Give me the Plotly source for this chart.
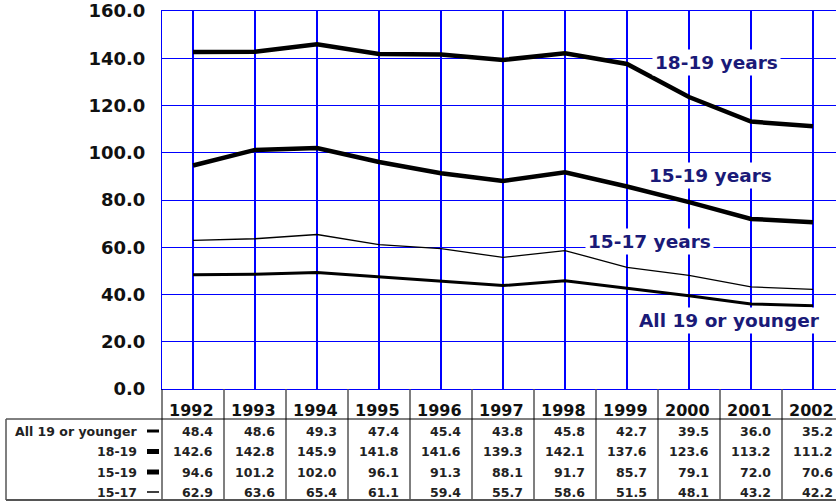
import plotly.graph_objects as go

# --- DATA ---
years = [1992, 1993, 1994, 1995, 1996, 1997, 1998, 1999, 2000, 2001, 2002]
all_19_or_younger = [48.4, 48.6, 49.3, 47.4, 45.4, 43.8, 45.8, 42.7, 39.5, 36.0, 35.2]
age_18_19 = [142.6, 142.8, 145.9, 141.8, 141.6, 139.3, 142.1, 137.6, 123.6, 113.2, 111.2]
age_15_19 = [94.6, 101.2, 102.0, 96.1, 91.3, 88.1, 91.7, 85.7, 79.1, 72.0, 70.6]
age_15_17 = [62.9, 63.6, 65.4, 61.1, 59.4, 55.7, 58.6, 51.5, 48.1, 43.2, 42.2]

row_labels = ["All 19 or younger", "18-19", "15-19", "15-17"]
row_values = [all_19_or_younger, age_18_19, age_15_19, age_15_17]
row_widths = [3, 5, 5, 1.5]

# in-chart labels: (text, x, y)
line_labels = [
    ("18-19 years", 2000.44, 138.4),
    ("15-19 years", 2000.34, 90.2),
    ("15-17 years", 1999.37, 62.6),
    ("All 19 or younger", 2000.66, 29.2),
]

FONT = "DejaVu Sans"
NAVY = "#1a1a78"
GRID = "#0000ff"
TBL = "#555555"

# --- LAYOUT GEOMETRY (pixels) ---
W, H = 836, 502
L, T, B = 162, 11, 113
PH = H - T - B


def py(pix):
    # pixel row -> paper y (0 = plot bottom)
    return (H - B - pix) / PH


def px(pix):
    return (pix - L) / (W - L)


fig = go.Figure()

fig.add_trace(go.Scatter(x=years, y=age_18_19, mode="lines",
                         line=dict(color="black", width=4.5)))
fig.add_trace(go.Scatter(x=years, y=age_15_19, mode="lines",
                         line=dict(color="black", width=4.5)))
fig.add_trace(go.Scatter(x=years, y=age_15_17, mode="lines",
                         line=dict(color="black", width=1.3)))
fig.add_trace(go.Scatter(x=years, y=all_19_or_younger, mode="lines",
                         line=dict(color="black", width=3)))

# Line labels with white boxes
for text, x, y in line_labels:
    fig.add_annotation(x=x, y=y, xref="x", yref="y", text=text, showarrow=False,
                       font=dict(family=FONT, size=18.5, color=NAVY, weight="bold"),
                       bgcolor="white", borderpad=2)

# --- DATA TABLE BELOW THE PLOT ---
header_y = py(410)
row_ys = [py(431), py(451.5), py(472), py(492)]
tbl_font = dict(family=FONT, size=12.5, color="#222222", weight="bold")

for yr in years:
    fig.add_annotation(x=yr, y=header_y, xref="x", yref="paper", text=str(yr),
                       showarrow=False, xanchor="right", yanchor="middle", xshift=23,
                       font=dict(family=FONT, size=16, color="#111111", weight="bold"))

for label, vals, ry, lw in zip(row_labels, row_values, row_ys, row_widths):
    fig.add_annotation(x=px(139), y=ry, xref="paper", yref="paper", text=label,
                       showarrow=False, xanchor="right", yanchor="middle", font=tbl_font)
    fig.add_shape(type="line", xref="paper", yref="paper",
                  x0=px(147), x1=px(159), y0=ry, y1=ry,
                  line=dict(color="black", width=lw))
    for yr, v in zip(years, vals):
        fig.add_annotation(x=yr, y=ry, xref="x", yref="paper", text=f"{v:.1f}",
                           showarrow=False, xanchor="right", yanchor="middle",
                           xshift=22, font=tbl_font)

# table borders
tbl_top, tbl_line, tbl_bot = py(389), py(419), py(500)
for yr in years[:-1]:
    fig.add_shape(type="line", xref="x", yref="paper", x0=yr + 0.5, x1=yr + 0.5,
                  y0=tbl_top, y1=tbl_bot, line=dict(color=TBL, width=1.5))
fig.add_shape(type="line", xref="paper", yref="paper", x0=0, x1=0,
              y0=tbl_top, y1=tbl_bot, line=dict(color="black", width=1))
fig.add_shape(type="line", xref="paper", yref="paper", x0=px(6), x1=1,
              y0=tbl_line, y1=tbl_line, line=dict(color="black", width=1))
fig.add_shape(type="line", xref="paper", yref="paper", x0=px(6), x1=1,
              y0=tbl_bot, y1=tbl_bot, line=dict(color=TBL, width=2))
fig.add_shape(type="line", xref="paper", yref="paper", x0=px(6), x1=px(6),
              y0=tbl_line, y1=tbl_bot, line=dict(color=TBL, width=1.5))

fig.update_layout(
    width=W, height=H,
    margin=dict(l=L, r=0, t=T, b=B, autoexpand=False),
    paper_bgcolor="white", plot_bgcolor="white",
    showlegend=False,
)
fig.update_xaxes(range=[1991.5, 1991.5 + (W - L) / 62], tickvals=years,
                 showticklabels=False, showgrid=True, gridcolor=GRID, gridwidth=1.5,
                 showline=True, linecolor=GRID, linewidth=1, mirror=True,
                 zeroline=False, ticks="", automargin=False)
fig.update_yaxes(range=[0, 160], tickvals=[0, 20, 40, 60, 80, 100, 120, 140, 160],
                 tickformat=".1f", showgrid=True, gridcolor=GRID, gridwidth=1,
                 showline=True, linecolor=GRID, linewidth=1, zeroline=False,
                 ticks="", ticklabelstandoff=12, automargin=False,
                 tickfont=dict(family=FONT, size=18, color="#111111", weight="bold"))

# page body has an 8px default margin; remove it so the figure fills the window
fig.write_html("out.html", config={"displayModeBar": False},
               post_script="document.body.style.margin='0';")
